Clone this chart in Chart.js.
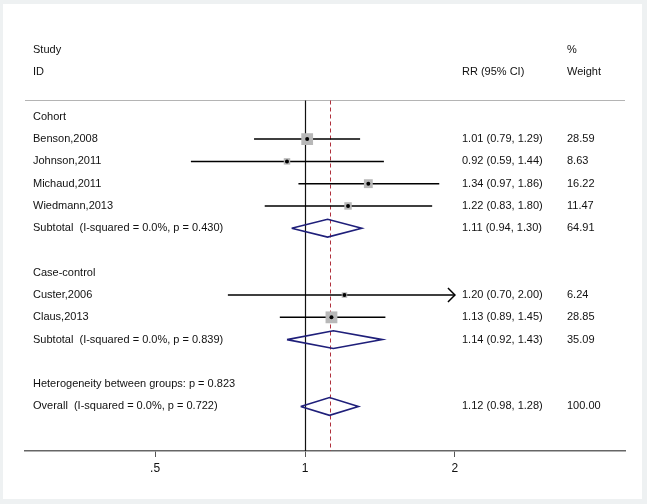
<!DOCTYPE html>
<html>
<head>
<meta charset="utf-8">
<script src="https://cdn.jsdelivr.net/npm/chart.js@4/dist/chart.umd.min.js"></script>
<style>
  html, body { margin: 0; padding: 0; background: #eef1f2; }
  #c { display: block; }
</style>
</head>
<body>
<canvas id="c" width="647" height="504"></canvas>
<script>
// ---- Data ----
const studyNames  = ['Benson,2008', 'Johnson,2011', 'Michaud,2011', 'Wiedmann,2013', 'Custer,2006', 'Claus,2013'];
const studyRR     = [1.01, 0.92, 1.34, 1.22, 1.20, 1.13];
const studyLow    = [0.79, 0.59, 0.97, 0.83, 0.70, 0.89];
const studyHigh   = [1.29, 1.44, 1.86, 1.80, 2.00, 1.45];
const studyWeight = [28.59, 8.63, 16.22, 11.47, 6.24, 28.85];
const studyRow    = [4, 5, 6, 7, 11, 12];

const pooledLabels = ['Subtotal  (I-squared = 0.0%, p = 0.430)', 'Subtotal  (I-squared = 0.0%, p = 0.839)', 'Overall  (I-squared = 0.0%, p = 0.722)'];
const pooledRR     = [1.11, 1.14, 1.12];
const pooledLow    = [0.94, 0.92, 0.98];
const pooledHigh   = [1.30, 1.43, 1.28];
const pooledWeight = [64.91, 35.09, 100.00];
const pooledRow    = [8, 13, 16];

const headingTexts = ['Cohort', 'Case-control', 'Heterogeneity between groups: p = 0.823'];
const headingRows  = [3, 10, 15];

const xTickValues = [0.5, 1, 2];
const xTickLabels = ['.5', '1', '2'];

const headerLeft  = ['Study', 'ID'];
const headerRR    = 'RR (95% CI)';
const headerW     = ['%', 'Weight'];

// ---- Styling / layout ----
const FONT = '11px "Liberation Sans", Arial, sans-serif';
const TEXT = '#111111';
const NAVY = '#1f1f7a';
const COL_LEFT = 33, COL_RR = 462, COL_W = 567;
const arrowMax = xTickValues[xTickValues.length - 1];
const sepRow = 2.25;
const diamondHalf = 0.4;

// CI line data (null-separated)
const ciData = [];
studyNames.forEach((n, i) => {
  ciData.push({ x: studyLow[i], y: studyRow[i] });
  ciData.push({ x: Math.min(studyHigh[i], arrowMax), y: studyRow[i] });
  ciData.push({ x: null, y: null });
});
const squareData = studyNames.map((n, i) => ({ x: studyRR[i], y: studyRow[i] }));
const squareRadius = studyWeight.map(w => Math.sqrt(w) * 2.2 / Math.SQRT2);
const diamondData = [];
pooledRR.forEach((v, i) => {
  const r = pooledRow[i];
  diamondData.push({ x: pooledLow[i], y: r });
  diamondData.push({ x: v, y: r - diamondHalf });
  diamondData.push({ x: pooledHigh[i], y: r });
  diamondData.push({ x: v, y: r + diamondHalf });
  diamondData.push({ x: pooledLow[i], y: r });
  diamondData.push({ x: null, y: null });
});

const forestPlugin = {
  id: 'forest',
  beforeDraw(chart) {
    const ctx = chart.ctx;
    ctx.save();
    ctx.fillStyle = '#eef1f2';
    ctx.fillRect(0, 0, chart.width, chart.height);
    ctx.fillStyle = '#ffffff';
    ctx.fillRect(3, 4, 639, 495);
    ctx.restore();
  },
  beforeDatasetsDraw(chart) {
    const ctx = chart.ctx, xs = chart.scales.x, ys = chart.scales.y, a = chart.chartArea;
    const ySep = Math.round(ys.getPixelForValue(sepRow)) + 0.5;
    ctx.save();
    ctx.strokeStyle = '#b4b4b4';
    ctx.lineWidth = 1;
    ctx.beginPath(); ctx.moveTo(a.left, ySep); ctx.lineTo(a.right, ySep); ctx.stroke();
    const x1 = Math.round(xs.getPixelForValue(1)) + 0.5;
    ctx.strokeStyle = '#111';
    ctx.lineWidth = 1.2;
    ctx.beginPath(); ctx.moveTo(x1, ySep); ctx.lineTo(x1, a.bottom); ctx.stroke();
    const xo = Math.round(xs.getPixelForValue(pooledRR[pooledRR.length - 1])) + 0.5;
    ctx.strokeStyle = '#b0303c';
    ctx.lineWidth = 1;
    ctx.setLineDash([4, 3]);
    ctx.beginPath(); ctx.moveTo(xo, ySep); ctx.lineTo(xo, a.bottom); ctx.stroke();
    ctx.restore();
  },
  afterDatasetsDraw(chart) {
    const ctx = chart.ctx, xs = chart.scales.x, ys = chart.scales.y;
    ctx.save();
    ctx.strokeStyle = '#000';
    ctx.lineWidth = 1.5;
    studyNames.forEach((n, i) => {
      if (studyHigh[i] >= arrowMax) {
        const x = xs.getPixelForValue(arrowMax), y = ys.getPixelForValue(studyRow[i]);
        ctx.beginPath();
        ctx.moveTo(x - 7, y - 7); ctx.lineTo(x, y); ctx.lineTo(x - 7, y + 7);
        ctx.stroke();
      }
    });
    ctx.restore();
  },
  afterDraw(chart) {
    const ctx = chart.ctx, ys = chart.scales.y;
    const Y = r => ys.getPixelForValue(r);
    ctx.save();
    ctx.font = FONT;
    ctx.fillStyle = TEXT;
    ctx.textBaseline = 'middle';
    ctx.textAlign = 'left';
    headerLeft.forEach((t, i) => ctx.fillText(t, COL_LEFT, Y(i)));
    ctx.fillText(headerRR, COL_RR, Y(1));
    headerW.forEach((t, i) => ctx.fillText(t, COL_W, Y(i)));
    headingTexts.forEach((t, i) => ctx.fillText(t, COL_LEFT, Y(headingRows[i])));
    const fmtCI = (v, l, h) => `${v.toFixed(2)} (${l.toFixed(2)}, ${h.toFixed(2)})`;
    studyNames.forEach((n, i) => {
      const y = Y(studyRow[i]);
      ctx.fillText(n, COL_LEFT, y);
      ctx.fillText(fmtCI(studyRR[i], studyLow[i], studyHigh[i]), COL_RR, y);
      ctx.fillText(studyWeight[i].toFixed(2), COL_W, y);
    });
    pooledLabels.forEach((n, i) => {
      const y = Y(pooledRow[i]);
      ctx.fillText(n, COL_LEFT, y);
      ctx.fillText(fmtCI(pooledRR[i], pooledLow[i], pooledHigh[i]), COL_RR, y);
      ctx.fillText(pooledWeight[i].toFixed(2), COL_W, y);
    });
    ctx.restore();
  }
};

new Chart(document.getElementById('c'), {
  type: 'scatter',
  data: {
    datasets: [
      { type: 'scatter', data: squareData, pointStyle: 'circle', pointRadius: 2,
        backgroundColor: '#000', borderWidth: 0, order: 0 },
      { type: 'scatter', data: squareData, pointStyle: 'rect', pointRadius: squareRadius,
        backgroundColor: '#b8b8b8', borderWidth: 0, order: 1 },
      { type: 'line', data: ciData, borderColor: '#000', borderWidth: 1.5,
        pointRadius: 0, spanGaps: false, fill: false, tension: 0, order: 2 },
      { type: 'line', data: diamondData, borderColor: NAVY, borderWidth: 1.6,
        pointRadius: 0, spanGaps: false, fill: false, tension: 0, order: 3 }
    ]
  },
  options: {
    responsive: false,
    animation: false,
    devicePixelRatio: 1,
    layout: { padding: { left: 25, right: 22, top: 50, bottom: 0 } },
    plugins: { legend: { display: false }, tooltip: { enabled: false } },
    events: [],
    scales: {
      x: {
        type: 'logarithmic',
        min: 0.274, max: 4.39,
        afterBuildTicks: s => { s.ticks = xTickValues.map(v => ({ value: v })); },
        afterFit: s => { s.height = 53; },
        ticks: {
          callback: (v, i) => xTickLabels[i],
          font: { family: '"Liberation Sans", Arial, sans-serif', size: 12 },
          color: TEXT, padding: 4, maxRotation: 0, autoSkip: false
        },
        grid: { drawOnChartArea: false, drawTicks: true, tickLength: 6, color: '#555', lineWidth: 1 },
        border: { display: true, color: '#666', width: 1.5 }
      },
      y: { type: 'linear', reverse: true, min: 0, max: 18, display: false }
    }
  },
  plugins: [forestPlugin]
});
</script>
</body>
</html>
